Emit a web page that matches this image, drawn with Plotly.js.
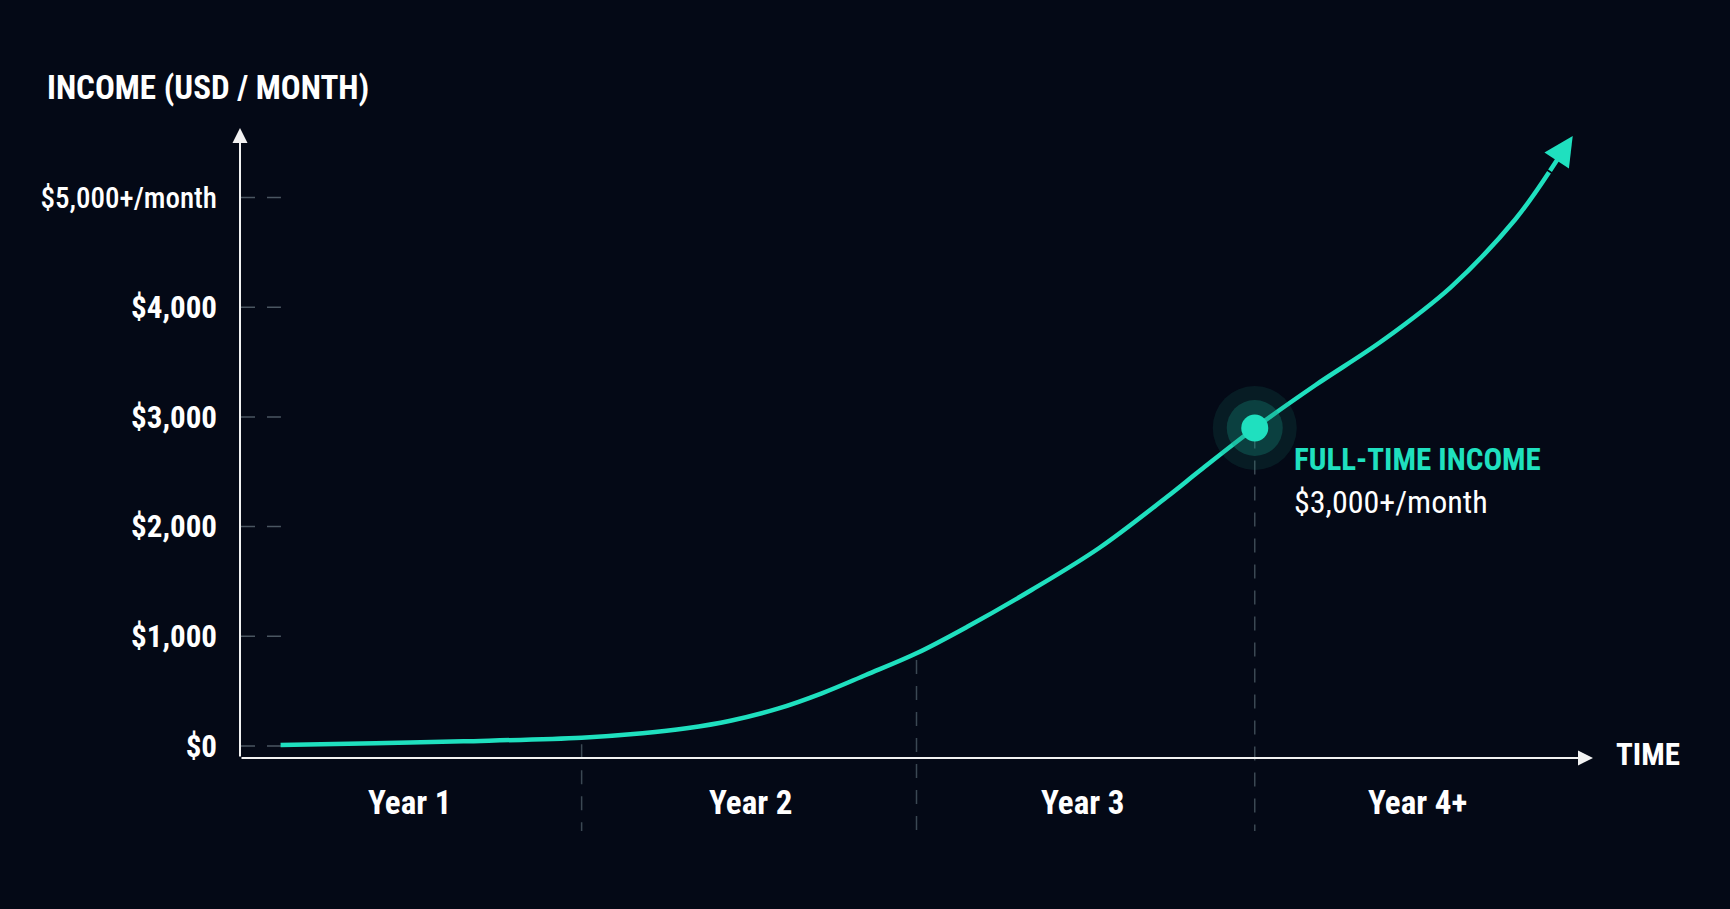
<!DOCTYPE html>
<html><head><meta charset="utf-8"><script src="https://cdn.plot.ly/plotly-3.0.1.min.js"></script>
<style>html,body{margin:0;padding:0;background:#040916;}#chart{width:1730px;height:909px;}</style>
</head><body><div id="chart"></div>
<script>
// ---- data ----
var yearLabels = ['Year 1', 'Year 2', 'Year 3', 'Year 4+'];
var yearCenters = [0.5, 1.51, 2.49, 3.48];
var yearBounds = [1.01, 2, 3];
var incomeTickVals = [0, 1000, 2000, 3000, 4000, 5000];
var incomeTickText = ['$0', '$1,000', '$2,000', '$3,000', '$4,000',
  '<span style="font-weight:500;font-size:29px">$5,000+/month</span>'];
var timeYears = [0.12, 0.40, 0.66, 1.01, 1.19, 1.32, 1.45, 1.59, 1.72, 1.85, 2.00, 2.15, 2.34, 2.54, 2.74, 2.84, 3.00, 3.18, 3.38, 3.58, 3.77, 3.87];
var incomeUSD = [9, 25, 43, 76, 116, 161, 230, 340, 480, 647, 845, 1087, 1422, 1805, 2270, 2516, 2899, 3291, 3701, 4184, 4800, 5230];
var arrowTip = {x: 3.94, y: 5560};
var milestone = {x: 3.00, y: 2899, title: 'FULL-TIME INCOME', sub: '$3,000+/month'};

// ---- style ----
var TEAL = '#1fe0bf';
var GRAYDASH = '#3b4853';
var FONT = 'Roboto Condensed, Roboto, sans-serif';
var X_RANGE = [0, 4];
var Y_RANGE = [-775, 5634];
var AXIS_Y = -109;   // level of the time axis line

var traces = [];

// dashed year separators (from the curve down to the bottom)
function interp(xv) {
  for (var i = 0; i < timeYears.length - 1; i++) {
    if (xv >= timeYears[i] && xv <= timeYears[i + 1]) {
      var t = (xv - timeYears[i]) / (timeYears[i + 1] - timeYears[i]);
      return incomeUSD[i] + t * (incomeUSD[i + 1] - incomeUSD[i]);
    }
  }
  return 0;
}
var sx = [], sy = [];
yearBounds.forEach(function (b) {
  sx.push(b, b, null);
  sy.push(interp(b) - 60, Y_RANGE[0], null);
});
traces.push({x: sx, y: sy, mode: 'lines', hoverinfo: 'skip', showlegend: false,
  line: {color: GRAYDASH, width: 1.5, dash: '14px,12px'}});

// short dashed tick marks right of the income axis
var tx = [], ty = [];
incomeTickVals.forEach(function (v) {
  tx.push(0, 0.121, null);
  ty.push(v, v, null);
});
traces.push({x: tx, y: ty, mode: 'lines', hoverinfo: 'skip', showlegend: false,
  line: {color: '#4a5661', width: 1.5, dash: '15px,12px'}});

// income curve
traces.push({x: timeYears, y: incomeUSD, mode: 'lines', hoverinfo: 'skip', showlegend: false,
  line: {color: TEAL, width: 4.5, shape: 'spline', smoothing: 1.0}});

// milestone glow + dot
traces.push({x: [milestone.x], y: [milestone.y], mode: 'markers', hoverinfo: 'skip', showlegend: false,
  marker: {size: 84, color: 'rgba(24,140,122,0.15)', line: {width: 0}}});
traces.push({x: [milestone.x], y: [milestone.y], mode: 'markers', hoverinfo: 'skip', showlegend: false,
  marker: {size: 56, color: 'rgba(24,150,130,0.30)', line: {width: 0}}});
traces.push({x: [milestone.x], y: [milestone.y], mode: 'markers', hoverinfo: 'skip', showlegend: false,
  marker: {size: 27, color: TEAL, line: {width: 0}}});

var ann = [];
// axis lines with arrowheads
ann.push({x: 0, y: Y_RANGE[1], ax: 0, ay: AXIS_Y, xref: 'x', yref: 'y', axref: 'x', ayref: 'y',
  text: '', showarrow: true, arrowhead: 2, arrowsize: 1.5, arrowwidth: 2, arrowcolor: '#f2f2f2', standoff: 0});
ann.push({x: X_RANGE[1], y: AXIS_Y, ax: 0, ay: AXIS_Y, xref: 'x', yref: 'y', axref: 'x', ayref: 'y',
  text: '', showarrow: true, arrowhead: 2, arrowsize: 1.5, arrowwidth: 2, arrowcolor: '#f2f2f2', standoff: 0});
// curve arrowhead
var n = timeYears.length - 1;
ann.push({x: arrowTip.x, y: arrowTip.y, ax: timeYears[n], ay: incomeUSD[n], xref: 'x', yref: 'y', axref: 'x', ayref: 'y',
  text: '', showarrow: true, arrowhead: 2, arrowsize: 1.3, arrowwidth: 4.5, arrowcolor: TEAL, standoff: 0});
// year labels
yearLabels.forEach(function (lab, i) {
  ann.push({x: yearCenters[i], y: AXIS_Y, yshift: -45, xref: 'x', yref: 'y', text: lab, showarrow: false,
    xanchor: 'center', yanchor: 'middle', font: {family: FONT, size: 33, color: '#ffffff', weight: 700}});
});
// TIME label
ann.push({x: X_RANGE[1], y: AXIS_Y, xshift: 21, yshift: 3, xref: 'x', yref: 'y', text: 'TIME', showarrow: false,
  xanchor: 'left', yanchor: 'middle', font: {family: FONT, size: 31, color: '#ffffff', weight: 700}});
// milestone labels
ann.push({x: milestone.x, y: milestone.y, xshift: 37, yshift: -31, xref: 'x', yref: 'y', text: milestone.title,
  showarrow: false, xanchor: 'left', yanchor: 'middle', font: {family: FONT, size: 31, color: TEAL, weight: 700}});
ann.push({x: milestone.x, y: milestone.y, xshift: 37, yshift: -74, xref: 'x', yref: 'y', text: milestone.sub,
  showarrow: false, xanchor: 'left', yanchor: 'middle', font: {family: FONT, size: 32, color: '#ffffff', weight: 400}});

var layout = {
  width: 1730, height: 909,
  paper_bgcolor: '#040916', plot_bgcolor: '#040916',
  margin: {l: 240, r: 137, t: 128, b: 78, pad: 0},
  showlegend: false,
  title: {text: 'INCOME (USD / MONTH)', x: 47 / 1730, xref: 'container', xanchor: 'left',
    y: 1 - 87 / 909, yref: 'container', yanchor: 'middle',
    font: {family: FONT, size: 33, color: '#ffffff', weight: 700}},
  xaxis: {range: X_RANGE, showgrid: false, zeroline: false, showline: false, showticklabels: false, ticks: '', fixedrange: true},
  yaxis: {range: Y_RANGE, showgrid: false, zeroline: false, showline: false, ticks: '',
    tickmode: 'array', tickvals: incomeTickVals, ticktext: incomeTickText, ticklabelstandoff: 22,
    tickfont: {family: FONT, size: 31, color: '#ffffff', weight: 700}, fixedrange: true},
  annotations: ann
};

Plotly.newPlot('chart', traces, layout, {displayModeBar: false, staticPlot: true});
</script></body></html>
